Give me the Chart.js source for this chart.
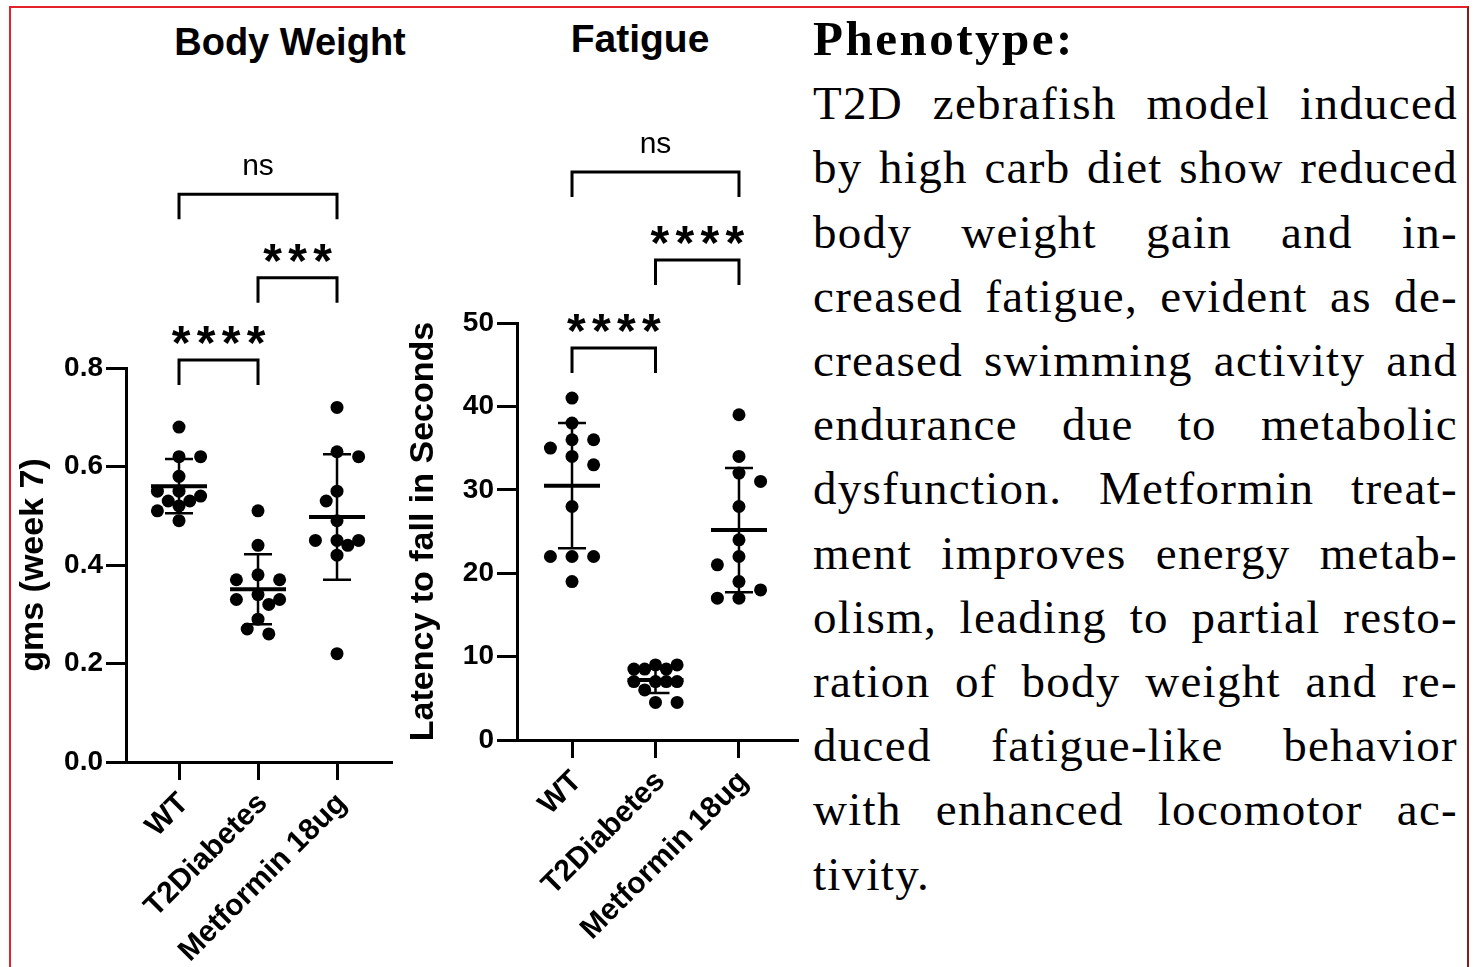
<!DOCTYPE html>
<html>
<head>
<meta charset="utf-8">
<title>T2D zebrafish phenotype</title>
<script src="https://cdn.jsdelivr.net/npm/chart.js@4.4.1/dist/chart.umd.min.js"></script>
<style>
  body { margin: 0; background: #fff; width: 1475px; height: 967px; overflow: hidden; position: relative; font-family: "Liberation Sans", Arial, sans-serif; }
  #frame { position: absolute; left: 9px; top: 6px; width: 1460px; height: 990px; box-sizing: border-box;
           border-top: 2px solid #e4222b; border-left: 2px solid #e4222b; border-right: 2px solid #8e1b1b; }
  .ttl { position: absolute; font-weight: bold; font-size: 38px; line-height: 38px; white-space: nowrap; transform: translateX(-50%); color: #000; }
  canvas { position: absolute; top: 0; }
  #bwCanvas { left: 0; }
  #fatCanvas { left: 396px; }
  #txt { position: absolute; left: 813px; top: 7px; width: 645px; font-family: "Liberation Serif", "Times New Roman", serif; font-size: 47px; line-height: 64.2px; letter-spacing: 1.3px; word-spacing: -4px; color: #000; }
  #txt div { text-align: justify; text-align-last: justify; }
  #txt .head { font-weight: bold; font-size: 49px; letter-spacing: 2.5px; word-spacing: 0; text-align-last: left; }
  #txt .last { text-align-last: left; }
</style>
</head>
<body>
<div id="frame"></div>
<div class="ttl" style="left:290px; top:23px;">Body Weight</div>
<div class="ttl" style="left:640px; top:20px; font-size:39px;">Fatigue</div>
<canvas id="bwCanvas" width="400" height="967"></canvas>
<canvas id="fatCanvas" width="410" height="967"></canvas>
<div id="txt">
  <div class="head">Phenotype:</div>
  <div>T2D zebrafish model induced</div>
  <div>by high carb diet show reduced</div>
  <div>body weight gain and in-</div>
  <div>creased fatigue, evident as de-</div>
  <div>creased swimming activity and</div>
  <div>endurance due to metabolic</div>
  <div>dysfunction. Metformin treat-</div>
  <div>ment improves energy metab-</div>
  <div>olism, leading to partial resto-</div>
  <div>ration of body weight and re-</div>
  <div>duced fatigue-like behavior</div>
  <div>with enhanced locomotor ac-</div>
  <div class="last">tivity.</div>
</div>
<script>
// groups on the x axis
const groups = ['WT', 'T2Diabetes', 'Metformin 18ug'];

// body weight, gms at week 7
const bwWT = [0.68, 0.62, 0.62, 0.58, 0.55, 0.55, 0.54, 0.53, 0.53, 0.52, 0.51, 0.49];
const bwT2D = [0.51, 0.44, 0.37, 0.37, 0.38, 0.32, 0.34, 0.33, 0.33, 0.29, 0.27, 0.26];
const bwMet = [0.72, 0.62, 0.63, 0.55, 0.53, 0.49, 0.45, 0.44, 0.45, 0.45, 0.42, 0.22];
const bwTicks = [0, 0.2, 0.4, 0.6, 0.8];
const bwTickLabels = ['0.0', '0.2', '0.4', '0.6', '0.8'];

// fatigue, latency to fall in seconds
const fatWT = [41, 38, 36, 36, 35, 34, 33, 28, 22, 22, 22, 19];
const fatT2D = [9, 9, 8.5, 8.5, 8.5, 7, 7, 7, 7, 6, 4.5, 4.5];
const fatMet = [39, 34, 32, 31, 28, 24, 22, 21, 19, 18, 17, 17];
const fatTicks = [0, 10, 20, 30, 40, 50];
const fatTickLabels = ['0', '10', '20', '30', '40', '50'];

// significance comparisons: [group a, group b]
const sigPairs = [[0, 1], [1, 2], [0, 2]];
const bwSigLabels = ['****', '***', 'ns'];
const bwSigLevels = [0.816, 0.983, 1.153];
const fatSigLabels = ['****', '****', 'ns'];
const fatSigLevels = [47.0, 57.55, 68.1];

const FONT = '"Liberation Sans", Arial, sans-serif';

function meanSd(vals) {
  const m = vals.reduce((a, b) => a + b, 0) / vals.length;
  const v = vals.reduce((a, b) => a + (b - m) * (b - m), 0) / (vals.length - 1);
  return [m, Math.sqrt(v)];
}

// mean line + SD whiskers on top of the dots
const statsPlugin = {
  id: 'stats',
  afterDatasetsDraw(chart) {
    const { ctx } = chart;
    const { x, y } = chart.scales;
    ctx.save();
    ctx.strokeStyle = '#000';
    ctx.lineCap = 'butt';
    chart.data.datasets.forEach((ds, gi) => {
      const [m, sd] = meanSd(ds.values);
      const cx = x.getPixelForValue(gi);
      const yTop = y.getPixelForValue(m + sd);
      const yBot = y.getPixelForValue(m - sd);
      const yMid = y.getPixelForValue(m);
      ctx.lineWidth = 2.5;
      ctx.beginPath();
      ctx.moveTo(cx, yTop); ctx.lineTo(cx, yBot);
      ctx.moveTo(cx - 14, yTop); ctx.lineTo(cx + 14, yTop);
      ctx.moveTo(cx - 14, yBot); ctx.lineTo(cx + 14, yBot);
      ctx.stroke();
      ctx.lineWidth = 4;
      ctx.beginPath();
      ctx.moveTo(cx - 28, yMid); ctx.lineTo(cx + 28, yMid);
      ctx.stroke();
    });
    ctx.restore();
  }
};

// brackets with stars / ns above the plot
function sigPlugin(labels, levels) {
  return {
    id: 'sig',
    afterDraw(chart) {
      const { ctx } = chart;
      const { x, y } = chart.scales;
      ctx.save();
      ctx.strokeStyle = '#000';
      ctx.fillStyle = '#000';
      ctx.lineWidth = 3;
      ctx.lineJoin = 'miter';
      sigPairs.forEach((pair, k) => {
        const x1 = x.getPixelForValue(pair[0]);
        const x2 = x.getPixelForValue(pair[1]);
        const ly = y.getPixelForValue(levels[k]);
        ctx.beginPath();
        ctx.moveTo(x1, ly + 25);
        ctx.lineTo(x1, ly);
        ctx.lineTo(x2, ly);
        ctx.lineTo(x2, ly + 25);
        ctx.stroke();
        const mid = (x1 + x2) / 2;
        const label = labels[k];
        ctx.textAlign = 'center';
        ctx.textBaseline = 'alphabetic';
        if (label === 'ns') {
          ctx.font = '30px ' + FONT;
          const mt = ctx.measureText(label);
          const c = ly - 27;
          ctx.fillText(label, mid, c + (mt.actualBoundingBoxAscent - mt.actualBoundingBoxDescent) / 2);
        } else {
          ctx.font = 'bold 48px ' + FONT;
          const mt = ctx.measureText('*');
          const c = ly - 25;
          const base = c + (mt.actualBoundingBoxAscent - mt.actualBoundingBoxDescent) / 2;
          const n = label.length;
          for (let i = 0; i < n; i++) {
            ctx.fillText('*', mid + (i - (n - 1) / 2) * 25, base);
          }
        }
      });
      ctx.restore();
    }
  };
}

// spread dots sideways so they do not sit on each other
function swarm(chart) {
  const { x, y } = chart.scales;
  const unit = x.getPixelForValue(1) - x.getPixelForValue(0);
  const slot = 10.8;
  const minDist = 14;
  chart.data.datasets.forEach((ds, gi) => {
    const placed = [];
    const order = ds.values.map((v, i) => i).sort((a, b) => ds.values[b] - ds.values[a]);
    order.forEach((i) => {
      const py = y.getPixelForValue(ds.values[i]);
      const left = placed.filter((p) => p.dx < 0).length;
      const right = placed.filter((p) => p.dx > 0).length;
      const cands = [0];
      for (let k = 1; k <= 2; k++) {
        if (left < right) cands.push(-k * slot, k * slot);
        else cands.push(k * slot, -k * slot);
      }
      let best = 0, bestD = -1;
      for (const c of cands) {
        const d = placed.length ? Math.min(...placed.map((p) => Math.hypot(p.dx - c, p.py - py))) : Infinity;
        if (d >= minDist) { best = c; bestD = d; break; }
        if (d > bestD) { best = c; bestD = d; }
      }
      placed.push({ dx: best, py });
      ds.data[i].x = gi + best / unit;
    });
  });
  chart.update('none');
}

function makeChart(canvasId, cfg) {
  const datasets = cfg.series.map((vals, gi) => ({
    values: vals,
    data: vals.map((v) => ({ x: gi, y: v })),
    backgroundColor: '#000',
    borderWidth: 0,
    pointRadius: 6.5,
    pointHoverRadius: 6.5,
    clip: false
  }));

  const chart = new Chart(document.getElementById(canvasId), {
    type: 'scatter',
    data: { datasets },
    options: {
      responsive: false,
      animation: false,
      events: [],
      layout: { padding: { top: cfg.top, right: cfg.right, bottom: 0, left: 0 } },
      plugins: { legend: { display: false }, tooltip: { enabled: false } },
      scales: {
        x: {
          type: 'linear',
          min: cfg.xMin,
          max: cfg.xMax,
          afterBuildTicks: (scale) => { scale.ticks = groups.map((g, i) => ({ value: i })); },
          afterFit: (scale) => { scale.height = cfg.xHeight; },
          grid: { drawOnChartArea: false, drawTicks: true, tickLength: 18, tickWidth: 3, tickColor: '#000' },
          border: { display: true, color: '#000', width: 3 },
          ticks: {
            autoSkip: false,
            minRotation: 45,
            maxRotation: 45,
            padding: 6,
            labelOffset: 5,
            color: '#000',
            font: { family: FONT, size: 30, weight: 'bold' },
            callback: (v, i) => groups[i]
          }
        },
        y: {
          min: cfg.yMin,
          max: cfg.yMax,
          afterBuildTicks: (scale) => { scale.ticks = cfg.ticks.map((v) => ({ value: v })); },
          afterFit: (scale) => { scale.width = cfg.yWidth; },
          grid: { drawOnChartArea: false, drawTicks: true, tickLength: 20, tickWidth: 3, tickColor: '#000' },
          border: { display: true, color: '#000', width: 3 },
          ticks: {
            padding: 3,
            color: '#000',
            font: { family: FONT, size: 28, weight: 'bold' },
            callback: (v, i) => cfg.tickLabels[i]
          },
          title: {
            display: true,
            text: cfg.yTitle,
            color: '#000',
            font: { family: FONT, size: 34, weight: 'bold', lineHeight: 1.2 },
            padding: { top: cfg.titlePad, bottom: 0 }
          }
        }
      }
    },
    plugins: [statsPlugin, sigPlugin(cfg.sigLabels, cfg.sigLevels)]
  });
  swarm(chart);
  return chart;
}

makeChart('bwCanvas', {
  series: [bwWT, bwT2D, bwMet],
  ticks: bwTicks,
  tickLabels: bwTickLabels,
  yMin: 0, yMax: 0.8,
  xMin: -0.671, xMax: 2.696,
  top: 368, right: 8, xHeight: 205, yWidth: 126, titlePad: 13.6,
  yTitle: 'gms (week 7)',
  sigLabels: bwSigLabels, sigLevels: bwSigLevels
});

makeChart('fatCanvas', {
  series: [fatWT, fatT2D, fatMet],
  ticks: fatTicks,
  tickLabels: fatTickLabels,
  yMin: 0, yMax: 50,
  xMin: -0.659, xMax: 2.707,
  top: 323, right: 8, xHeight: 227, yWidth: 121, titlePad: 7.6,
  yTitle: 'Latency to fall in Seconds',
  sigLabels: fatSigLabels, sigLevels: fatSigLevels
});
</script>
</body>
</html>
